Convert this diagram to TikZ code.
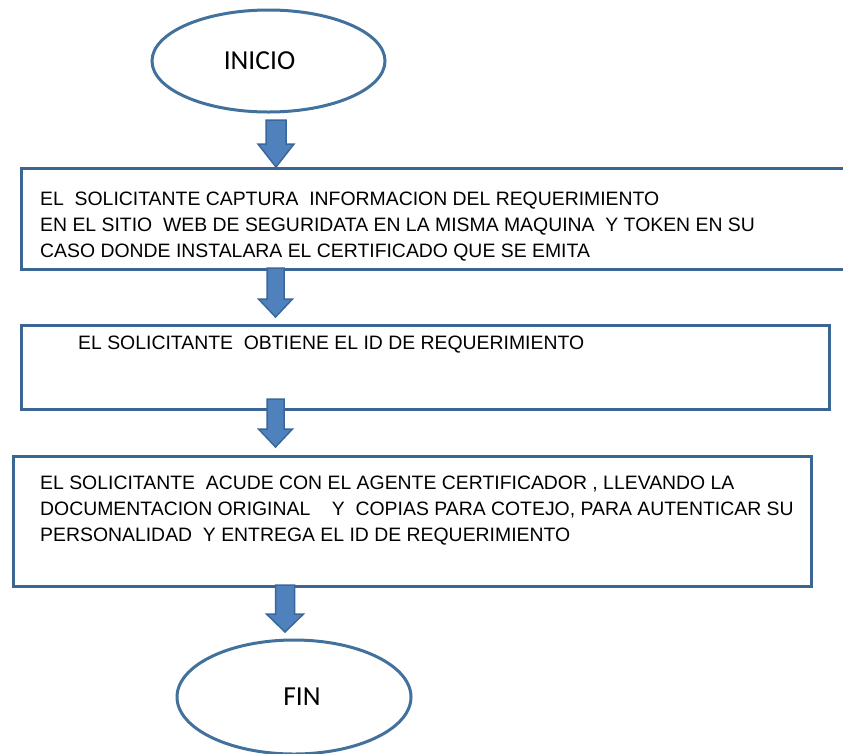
\documentclass[tikz,border=0pt]{standalone}
\usepackage{fontspec}
\setmainfont{Liberation Sans}
\newfontfamily\ovalfont{Carlito}
\usetikzlibrary{shapes.geometric}
\definecolor{boxblue}{HTML}{3B6593}
\definecolor{ovalblue}{HTML}{41719C}
\definecolor{arrfill}{HTML}{4F81BD}
\definecolor{arrline}{HTML}{3A679B}
\tikzset{
  oval/.style={ellipse, draw=ovalblue, line width=3pt, inner sep=0pt, font=\ovalfont\fontsize{27.5}{30}\selectfont},
  stepbox/.style={draw=boxblue, line width=3.2pt, anchor=north west, inner sep=0pt},
  steptext/.style={anchor=north west, inner sep=0pt, align=left, font=\fontsize{19.4}{26}\selectfont},
  blockarrow/.style={fill=arrfill, draw=arrline, line width=1.5pt, line join=miter}
}
% #1 centre x, #2 top y, #3 head start y, #4 tip y, #5 shaft width, #6 head width
\newcommand{\blkarrow}[6]{%
  \filldraw[blockarrow] ({#1-#5/2},#2) -- ({#1+#5/2},#2) -- ({#1+#5/2},#3) -- ({#1+#6/2},#3)
    -- (#1,#4) -- ({#1-#6/2},#3) -- ({#1-#5/2},#3) -- cycle;}
\begin{document}
\begin{tikzpicture}[x=1pt,y=-1pt]
\clip (0,0) rectangle (843,753);
\fill[white] (0,0) rectangle (843,753);
% ovals
\node[oval, minimum width=233pt, minimum height=102pt] (ini) at (268.5,61) {\hspace*{-18pt}\raisebox{-2pt}{INICIO}};
\node[oval, minimum width=234pt, minimum height=114pt] (fin) at (294,697) {\hspace*{16pt}\raisebox{-3pt}{FIN}};
% boxes
\node[stepbox, minimum width=830pt, minimum height=101pt] (b1) at (20,167) {};
\node[stepbox, minimum width=808pt, minimum height=84pt] (b2) at (20,324) {};
\node[stepbox, minimum width=798pt, minimum height=130pt] (b3) at (12,455) {};
% texts
\node[steptext] (t1) at (40,192) {EL~ SOLICITANTE CAPTURA~ INFORMACION DEL REQUERIMIENTO\\
EN EL SITIO~ WEB DE SEGURIDATA EN LA MISMA MAQUINA~ Y TOKEN EN SU\\
CASO DONDE INSTALARA EL CERTIFICADO QUE SE EMITA};
\node[steptext] (t2) at (78,336) {EL SOLICITANTE~ OBTIENE EL ID DE REQUERIMIENTO};
\node[steptext] (t3) at (40,476) {EL SOLICITANTE~ ACUDE CON EL AGENTE CERTIFICADOR , LLEVANDO LA\\
DOCUMENTACION ORIGINAL~ ~ Y~ COPIAS PARA COTEJO, PARA AUTENTICAR SU\\
PERSONALIDAD~ Y ENTREGA EL ID DE REQUERIMIENTO};
% arrows
\blkarrow{276}{120}{144}{167}{20}{36}
\blkarrow{275.5}{268}{299}{317}{17}{34}
\blkarrow{275.5}{399}{429}{447}{17}{34}
\blkarrow{285}{585}{614}{632}{19}{37}
\end{tikzpicture}
\end{document}
